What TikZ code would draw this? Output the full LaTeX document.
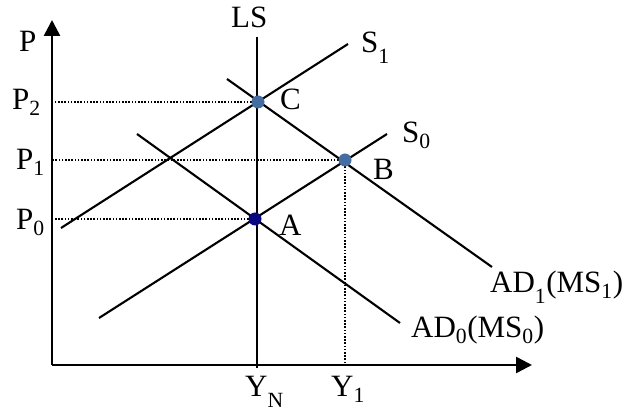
\documentclass[tikz,border=0pt]{standalone}
\usepackage{fontspec}
\setmainfont{Liberation Serif}
\usetikzlibrary{arrows.meta}
\definecolor{ptnavy}{RGB}{8,8,130}
\definecolor{ptsteel}{RGB}{68,110,162}
\newcommand{\lsub}[1]{\textsubscript{#1}}
\newcommand{\lsubl}[1]{\raisebox{-0.35ex}{\textsubscript{#1}}}

\begin{document}
\begin{tikzpicture}[
x=1pt, y=-1pt,
every node/.style={inner sep=0pt, font=\fontsize{31}{34}\selectfont},
lbl/.style={anchor=base west},
axis/.style={line width=2.6pt},
curve/.style={line width=2.1pt},
guide/.style={line width=1.6pt, dash pattern=on 1.6pt off 1.6pt},
eqpt/.style={circle, minimum size=13pt},
>={Triangle[length=16pt, width=16pt]}
]
\useasboundingbox (0,0) rectangle (624,411);

\coordinate (O) at (52,365);
\coordinate (ytop) at (52,20);
\coordinate (xend) at (532,365);

\coordinate (ptA) at (255,219);
\coordinate (ptB) at (345,160);
\coordinate (ptC) at (258,102);

\coordinate (ls1) at (257,37);
\coordinate (ls2) at (257,368);
\coordinate (s1a) at (61,228);
\coordinate (s1b) at (348,44);
\coordinate (s0a) at (99,318);
\coordinate (s0b) at (387,134);
\coordinate (ad1a) at (227,79);
\coordinate (ad1b) at (492,267);
\coordinate (ad0a) at (137,134);
\coordinate (ad0b) at (400,323);

\draw[guide] (ptC) -- (ptC -| O);
\draw[guide] (ptB) -- (ptB -| O);
\draw[guide] (ptA) -- (ptA -| O);
\draw[guide] (ptB) -- (ptB |- O);

\draw[axis, ->] (O) -- (ytop);
\draw[axis, ->] (O) -- (xend);

\draw[curve] (ls1) -- (ls2);
\draw[curve] (s1a) -- (s1b);
\draw[curve] (s0a) -- (s0b);
\draw[curve] (ad1a) -- (ad1b);
\draw[curve] (ad0a) -- (ad0b);

\node[eqpt, fill=ptnavy] (A) at (ptA) {};
\node[eqpt, fill=ptsteel] (B) at (ptB) {};
\node[eqpt, fill=ptsteel] (C) at (ptC) {};

\node[lbl] (lblA) at (279,236) {A};
\node[lbl] (lblB) at (373,180) {B};
\node[lbl] (lblC) at (280,110) {C};

\node[lbl] (lblP) at (19,52) {P};
\node[lbl] (lblP2) at (12,110) {P\lsub{2}};
\node[lbl] (lblP1) at (16,170) {P\lsub{1}};
\node[lbl] (lblP0) at (16,230) {P\lsub{0}};

\node[lbl] (lblLS) at (231,28) {LS};
\node[lbl] (lblS1) at (361,53) {S\lsubl{1}};
\node[lbl] (lblS0) at (402,143) {S\lsub{0}};

\node[lbl] (lblYN) at (245,397) {Y\lsubl{N}};
\node[lbl] (lblY1) at (331,397) {Y\lsub{1}};

\node[lbl] (lblAD1) at (490,293) {AD\lsubl{1}(MS\lsub{1})};
\node[lbl] (lblAD0) at (411,338) {AD\lsub{0}(MS\lsub{0})};

\end{tikzpicture}
\end{document}
